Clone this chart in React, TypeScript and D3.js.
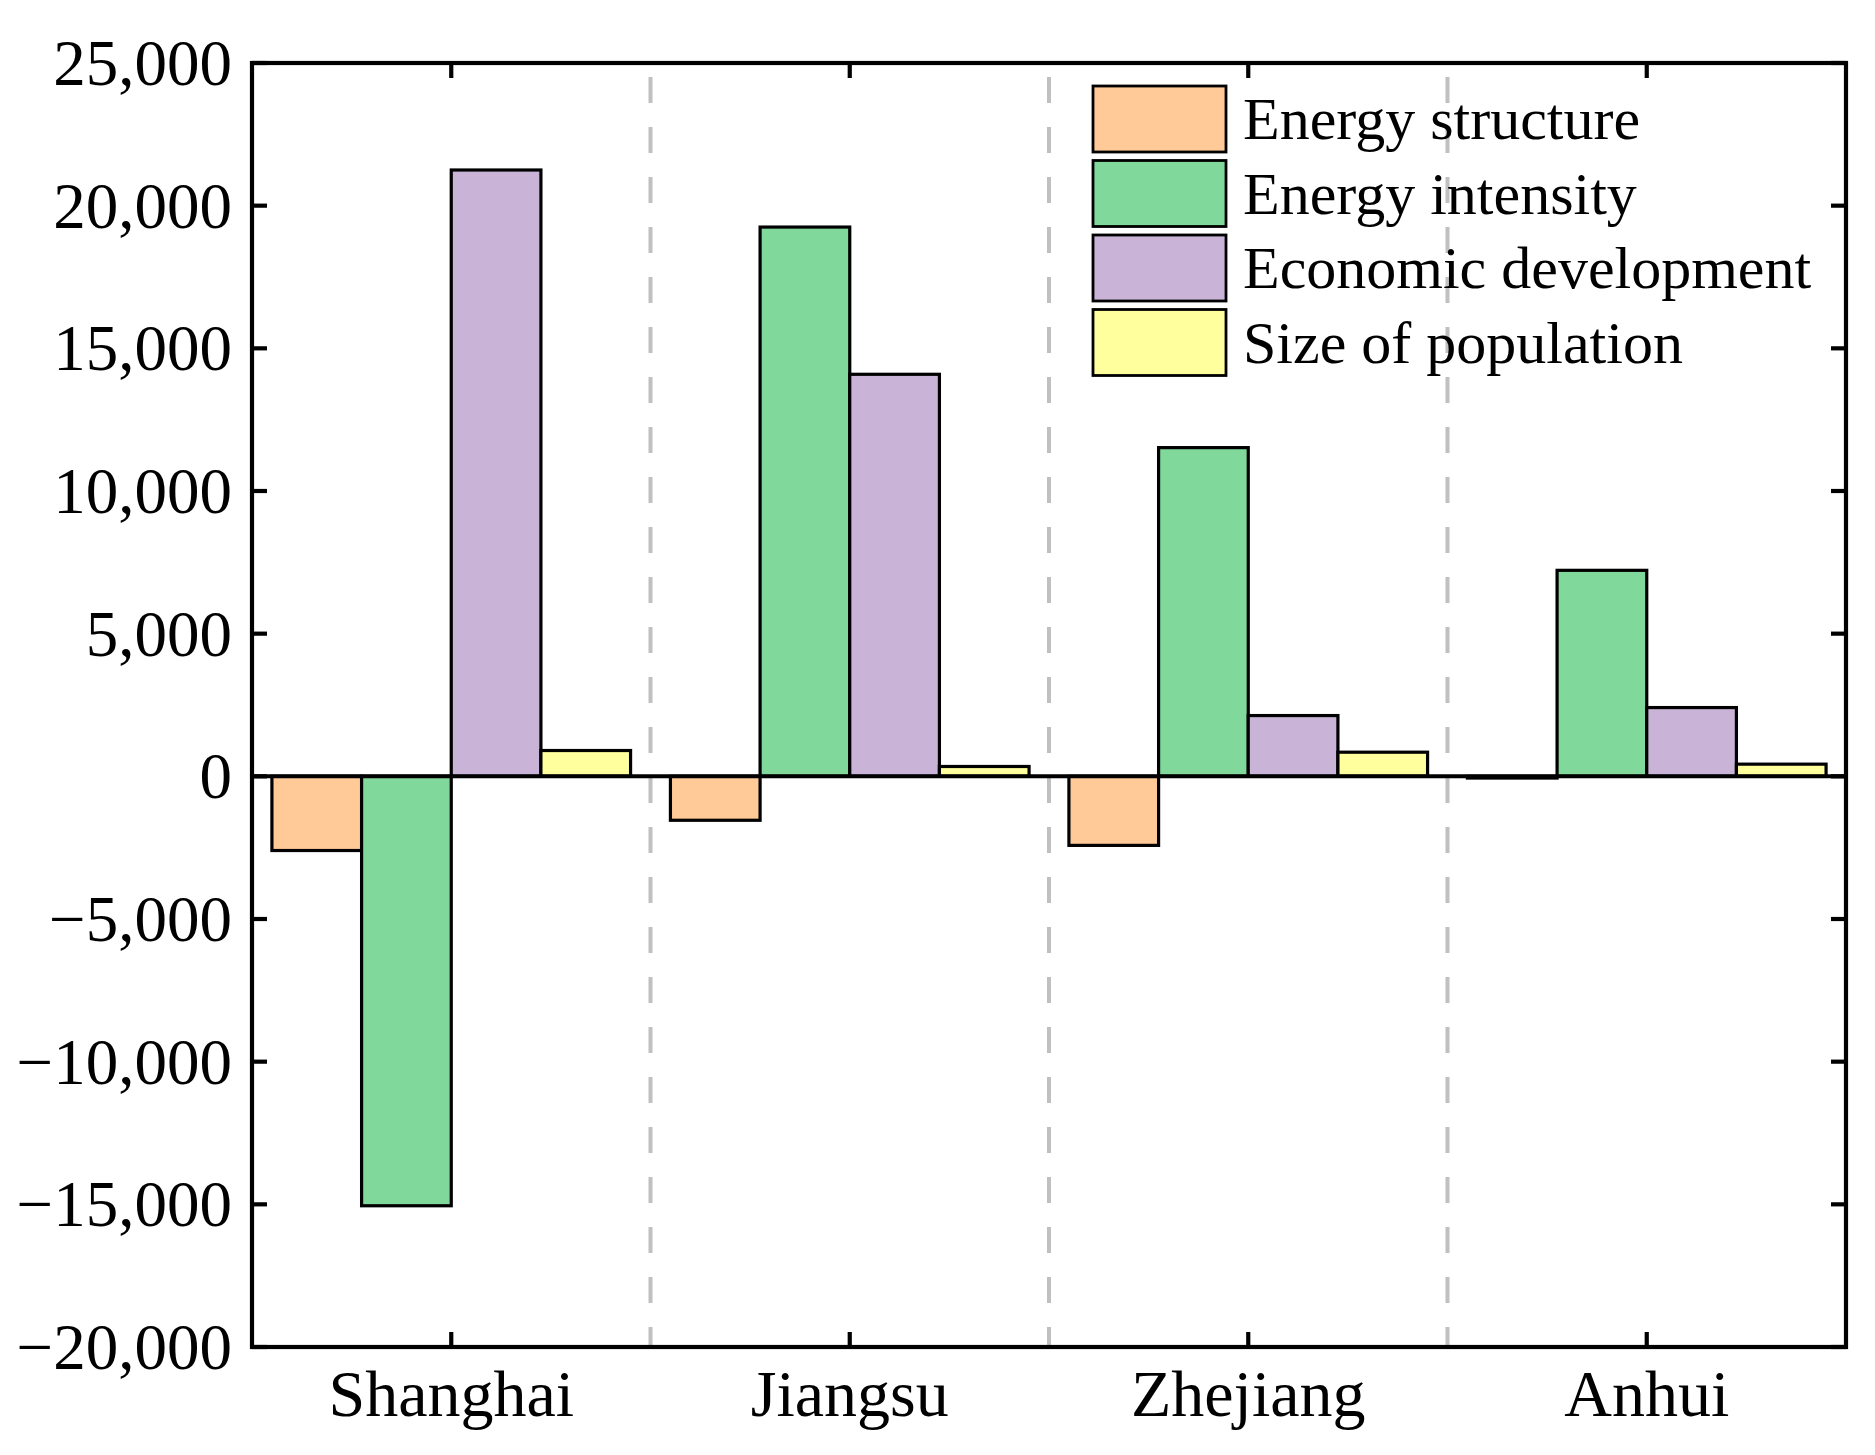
import React from "react";
import * as d3 from "d3";

const categories = ["Shanghai", "Jiangsu", "Zhejiang", "Anhui"];
const seriesNames = ["Energy structure", "Energy intensity", "Economic development", "Size of population"];
const energyStructure = [-2600, -1540, -2420, -60];
const energyIntensity = [-15050, 19250, 11520, 7220];
const economicDevelopment = [21250, 14090, 2130, 2410];
const sizeOfPopulation = [905, 345, 846, 427];
const yTicks = [-20000, -15000, -10000, -5000, 0, 5000, 10000, 15000, 20000, 25000];
const colors = ["#FFCA97", "#80D99B", "#C9B4D8", "#FFFF9E"];

const seriesValues = [energyStructure, energyIntensity, economicDevelopment, sizeOfPopulation];

const W = 1875;
const H = 1455;
const left = 252;
const right = 1846;
const top = 63;
const bottom = 1347;
const font = "'Liberation Serif', 'Times New Roman', serif";

export default function App() {
  const x0 = d3.scaleBand<string>().domain(categories).range([left, right]).padding(0);
  const bw = x0.bandwidth();
  const x1 = d3
    .scaleBand<string>()
    .domain(seriesNames)
    .range([bw * 0.05, bw * 0.95])
    .padding(0);
  const y = d3.scaleLinear().domain([-20000, 25000]).range([bottom, top]);
  const fmt = d3.format(",");
  const tickLen = 15;
  const axisW = 4.2;

  const legendX = 1093;
  const legendY0 = 86;
  const legendStep = 74.5;

  return (
    <div style={{ position: "absolute", left: 0, top: 0 }}>
      <svg width={W} height={H} viewBox={`0 0 ${W} ${H}`} style={{ display: "block", background: "#fff" }}>
        <rect x={0} y={0} width={W} height={H} fill="#fff" />
        {/* dashed separators */}
        {categories.slice(1).map((c) => {
          const xx = x0(c)!;
          return (
            <line
              key={"sep" + c}
              x1={xx}
              x2={xx}
              y1={top}
              y2={bottom}
              stroke="#c0c0c0"
              strokeWidth={4}
              strokeDasharray="26 24"
              strokeDashoffset={36}
            />
          );
        })}
        {/* bars */}
        {categories.map((c, ci) => (
          <g key={c} transform={`translate(${x0(c)},0)`}>
            {seriesNames.map((s, si) => {
              const v = seriesValues[si][ci];
              const y0 = y(0);
              const yv = y(v);
              return (
                <rect
                  key={s}
                  x={x1(s)!}
                  y={Math.min(y0, yv)}
                  width={x1.bandwidth()}
                  height={Math.abs(yv - y0)}
                  fill={colors[si]}
                  stroke="#000"
                  strokeWidth={3.2}
                />
              );
            })}
          </g>
        ))}
        {/* zero line */}
        <line x1={left} x2={right} y1={y(0)} y2={y(0)} stroke="#000" strokeWidth={4} />
        {/* frame */}
        <rect x={left} y={top} width={right - left} height={bottom - top} fill="none" stroke="#000" strokeWidth={axisW} />
        {/* y ticks */}
        {yTicks.map((t) => (
          <g key={"yt" + t}>
            <line x1={left} x2={left + tickLen} y1={y(t)} y2={y(t)} stroke="#000" strokeWidth={axisW} />
            <line x1={right - tickLen} x2={right} y1={y(t)} y2={y(t)} stroke="#000" strokeWidth={axisW} />
            <text
              x={left - 20}
              y={y(t) + 22}
              textAnchor="end"
              fontFamily={font}
              fontSize={65}
              fill="#000"
            >
              {fmt(t)}
            </text>
          </g>
        ))}
        {/* x ticks */}
        {categories.map((c) => {
          const cx = x0(c)! + bw / 2;
          return (
            <g key={"xt" + c}>
              <line x1={cx} x2={cx} y1={bottom} y2={bottom - tickLen} stroke="#000" strokeWidth={axisW} />
              <line x1={cx} x2={cx} y1={top} y2={top + tickLen} stroke="#000" strokeWidth={axisW} />
              <text x={cx} y={1416} textAnchor="middle" fontFamily={font} fontSize={66} fill="#000">
                {c}
              </text>
            </g>
          );
        })}
        {/* legend */}
        {seriesNames.map((s, i) => {
          const yy = legendY0 + i * legendStep;
          return (
            <g key={"lg" + s}>
              <rect x={legendX} y={yy} width={133} height={66} fill={colors[i]} stroke="#000" strokeWidth={2.8} />
              <text x={1243} y={yy + 53} fontFamily={font} fontSize={60} fill="#000">
                {s}
              </text>
            </g>
          );
        })}
      </svg>
    </div>
  );
}
